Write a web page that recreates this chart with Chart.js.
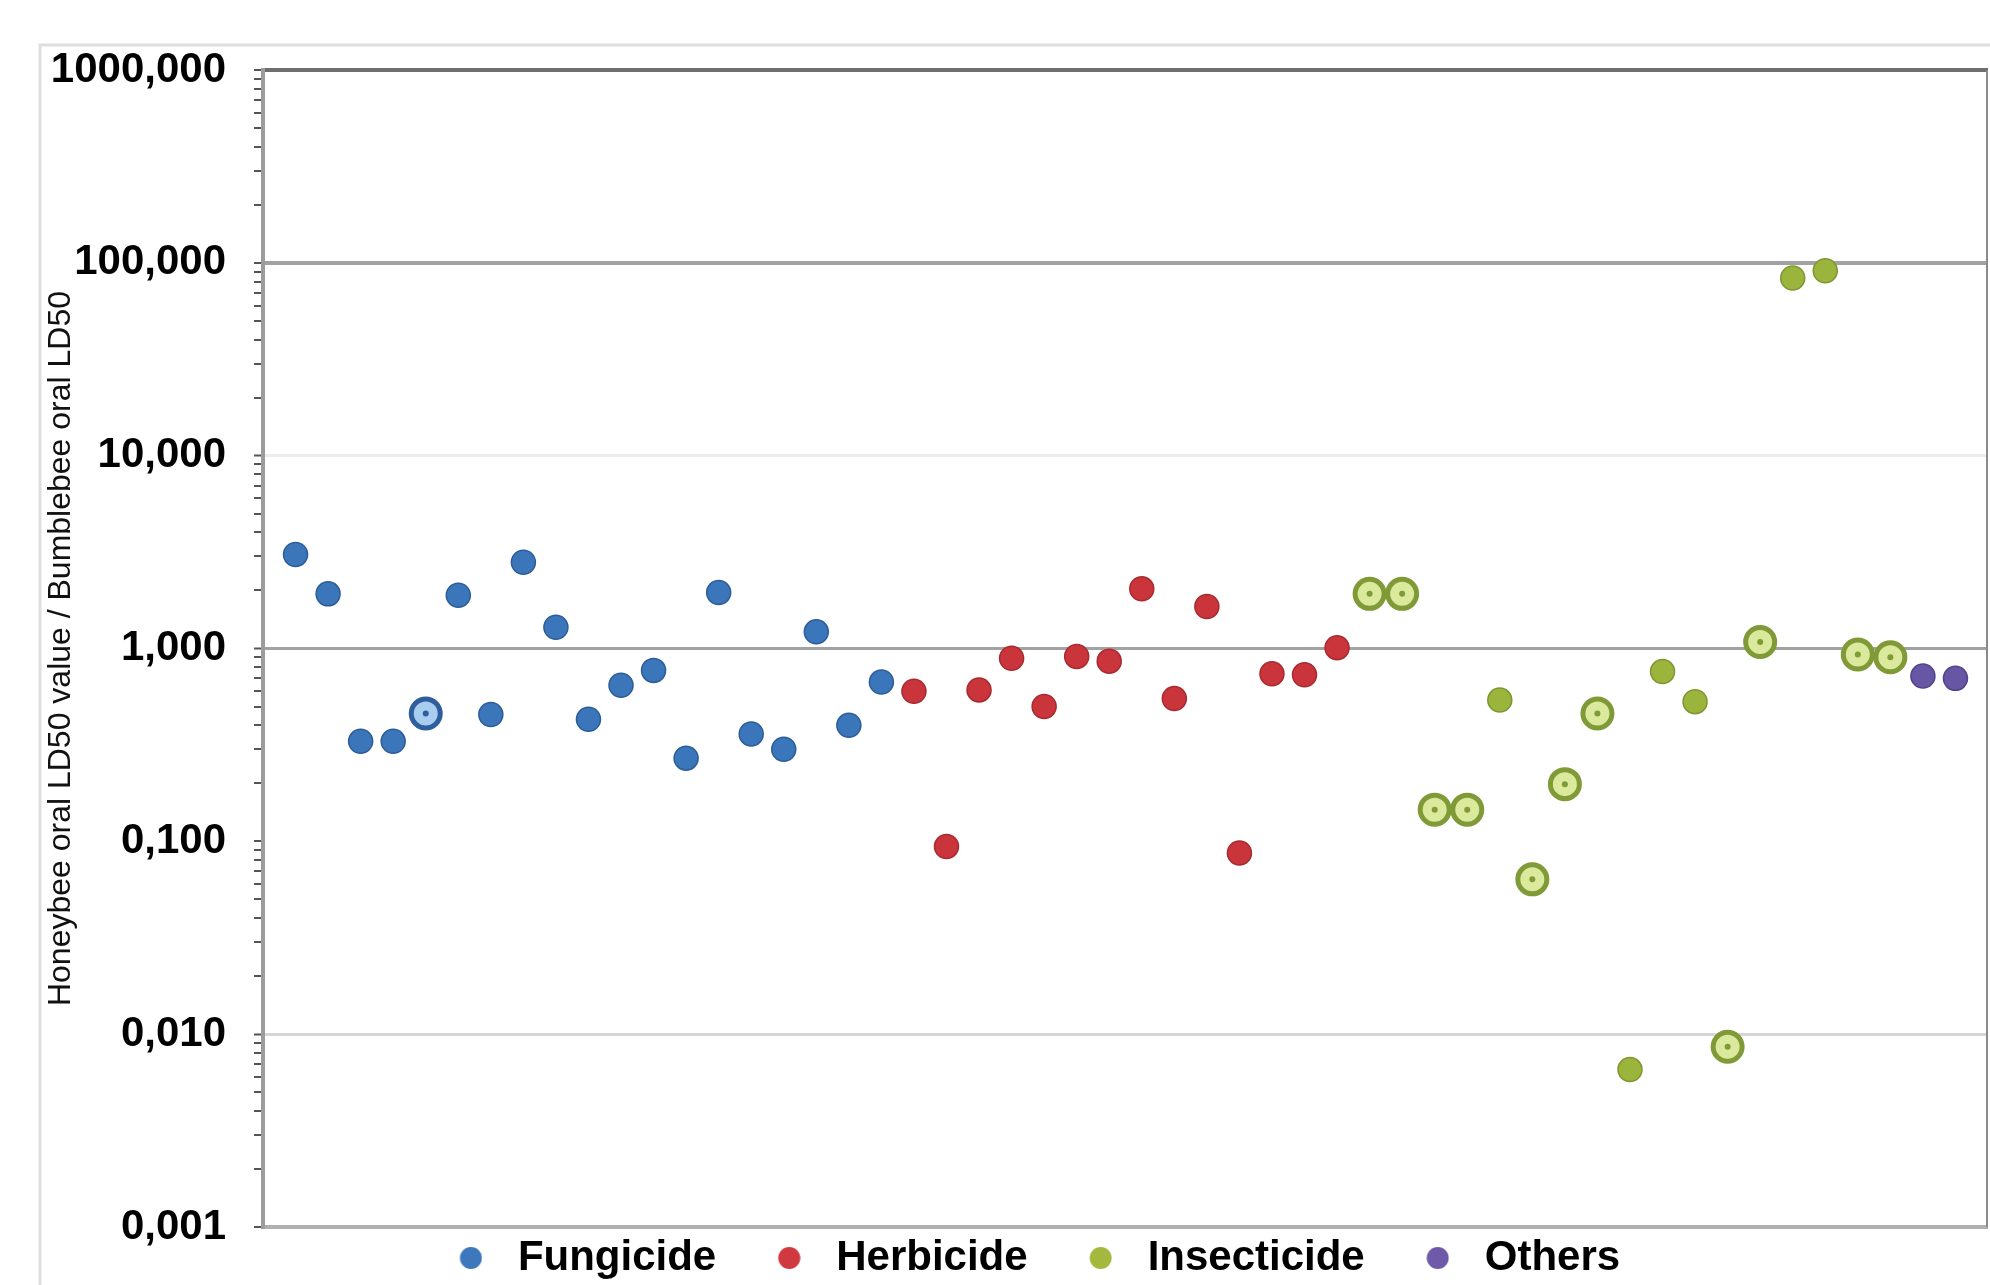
<!DOCTYPE html>
<html><head><meta charset="utf-8">
<script src="https://cdn.jsdelivr.net/npm/chart.js@4"></script>
<style>html,body{margin:0;padding:0;background:#fff;overflow:hidden;} #wrap{width:1990px;height:1285px;position:relative;} canvas{display:block;}</style>
</head><body><div id="wrap"><canvas id="c"></canvas></div>
<script>
// ---- data (ratio honeybee oral LD50 / bumblebee oral LD50), in plotting order ----
const fungicide   = [3.07, 1.92, 0.33, 0.33, 0.46, 1.89, 0.455, 2.8, 1.29, 0.43, 0.645, 0.77, 0.27, 1.95, 0.36, 0.30, 1.22, 0.40, 0.67];
const herbicide   = [0.60, 0.094, 0.61, 0.89, 0.50, 0.91, 0.86, 2.04, 0.55, 1.65, 0.087, 0.74, 0.73, 1.01];
const insecticide = [1.92, 1.92, 0.146, 0.146, 0.54, 0.0635, 0.198, 0.46, 0.00655, 0.76, 0.53, 0.0086, 1.08, 83.4, 91, 0.93, 0.90];
const others      = [0.72, 0.70];
// 1-based positions within each group of compounds shown with the ringed marker
const ringedFungicide   = [5];
const ringedHerbicide   = [];
const ringedInsecticide = [1, 2, 3, 4, 6, 7, 8, 12, 13, 16, 17];
const ringedOthers      = [];
const seriesNames = ['Fungicide', 'Herbicide', 'Insecticide', 'Others'];
const tickValues = [1000, 100, 10, 1, 0.1, 0.01, 0.001];
const tickLabels = ['1000,000', '100,000', '10,000', '1,000', '0,100', '0,010', '0,001'];
const yTitle = 'Honeybee oral LD50 value / Bumblebee oral LD50';

// ---- styles ----
const styles = [
  {fill: '#3b75ba', edge: '#2d5d98', ringFill: '#a9cdf0', ringEdge: '#2f5e9c', legend: '#3d78bd'},
  {fill: '#c9353b', edge: '#a82a30', ringFill: '#f0a0a0', ringEdge: '#a82a30', legend: '#d0393f'},
  {fill: '#9bb43b', edge: '#7e9631', ringFill: '#dbe99c', ringEdge: '#7f9a36', legend: '#a4b83d'},
  {fill: '#6656a4', edge: '#52448a', ringFill: '#c0b6e0', ringEdge: '#52448a', legend: '#6e5aa8'}
];
const groupValues = [fungicide, herbicide, insecticide, others];
const groupRinged = [ringedFungicide, ringedHerbicide, ringedInsecticide, ringedOthers];

const datasets = [];
const dots = [], dotColors = [];
let xi = 0;
groupValues.forEach((vals, g) => {
  const st = styles[g];
  const data = [], r = [], bg = [], bc = [], bw = [];
  vals.forEach((v, i) => {
    xi += 1;
    const ring = groupRinged[g].includes(i + 1);
    data.push({x: xi, y: v});
    r.push(ring ? 14.5 : 12);
    bg.push(ring ? st.ringFill : st.fill);
    bc.push(ring ? st.ringEdge : st.edge);
    bw.push(ring ? 5 : 1.5);
    if (ring) { dots.push({x: xi, y: v}); dotColors.push(st.ringEdge); }
  });
  datasets.push({label: seriesNames[g], data, pointRadius: r, pointHoverRadius: r,
    pointBackgroundColor: bg, pointBorderColor: bc, pointBorderWidth: bw,
    backgroundColor: st.legend, borderColor: st.legend, showLine: false, order: 1});
});
datasets.push({label: '_centers', data: dots, pointRadius: 3, pointBorderWidth: 0,
  pointBackgroundColor: dotColors, showLine: false, order: -1});
const nPoints = xi;

// legend marker images (dot offset inside a wide box so text spacing matches)
const LEG_W = 89;
function legendImg(color) {
  const c = document.createElement('canvas');
  c.width = 60; c.height = 24;
  const x = c.getContext('2d');
  x.fillStyle = color; x.beginPath(); x.arc(48.5, 12, 11, 0, Math.PI * 2); x.fill();
  return c;
}
const legendImgs = styles.map(s => legendImg(s.legend));

const FONT = "'Liberation Sans', Arial, Helvetica, sans-serif";
const minorTicks = [];
for (let e = -3; e < 3; e++) for (let m = 1; m < 10; m++) minorTicks.push(+(m * Math.pow(10, e)).toPrecision(3));
minorTicks.push(1000);

function isMajor(v) { return tickValues.some(t => Math.abs(Math.log10(v) - Math.log10(t)) < 1e-6); }
function gridStyle(v) {
  if (!isMajor(v)) return {c: 'rgba(0,0,0,0)', w: 0};
  const l = Math.round(Math.log10(v));
  if (l === 3) return {c: '#6e6e6e', w: 4};
  if (l === 2) return {c: '#a2a2a2', w: 4};
  if (l === 1) return {c: '#ededed', w: 3};
  if (l === 0) return {c: '#a2a2a2', w: 3};
  if (l === -1) return {c: 'rgba(0,0,0,0)', w: 0};
  if (l === -2) return {c: '#d6d6d6', w: 3};
  return {c: '#b0b0b0', w: 4};
}

const frame = {
  id: 'frame',
  beforeDraw(chart) {
    const ctx = chart.ctx;
    ctx.save();
    ctx.strokeStyle = '#dedede'; ctx.lineWidth = 3;
    ctx.strokeRect(40, 45, chart.width + 20, chart.height + 20);
    ctx.restore();
  },
  afterDraw(chart) {
    const a = chart.chartArea, ctx = chart.ctx;
    ctx.save();
    ctx.strokeStyle = '#8a8a8a'; ctx.lineWidth = 2;
    ctx.beginPath(); ctx.moveTo(a.right - 1, a.top); ctx.lineTo(a.right - 1, a.bottom); ctx.stroke();
    ctx.restore();
  }
};

new Chart(document.getElementById('c'), {
  type: 'scatter',
  data: {datasets},
  plugins: [frame],
  options: {
    responsive: true, maintainAspectRatio: false, animation: false,
    layout: {autoPadding: false, padding: {left: 40, top: 70, right: 2, bottom: -4}},
    scales: {
      x: {type: 'linear', min: 0, max: nPoints + 1, display: false},
      y: {
        type: 'logarithmic', min: 0.001, max: 1000,
        afterBuildTicks(s) { s.ticks = minorTicks.map(v => ({value: v})); },
        afterFit(s) { s.width = 223; },
        ticks: {
          autoSkip: false, padding: 28, color: '#000',
          font: {family: FONT, size: 42, weight: 'bold'},
          callback(v) { const i = tickValues.findIndex(t => Math.abs(Math.log10(v) - Math.log10(t)) < 1e-6); return i >= 0 ? tickLabels[i] : ''; }
        },
        grid: {
          drawTicks: true, tickLength: 9, tickWidth: 2,
          tickColor: '#555',
          color: ctx => gridStyle(ctx.tick.value).c,
          lineWidth: ctx => gridStyle(ctx.tick.value).w
        },
        border: {display: true, color: '#9c9c9c', width: 4},
        title: {display: true, text: yTitle, color: '#111', font: {family: FONT, size: 32}, padding: {top: 2, bottom: 0}}
      }
    },
    plugins: {
      tooltip: {enabled: false},
      legend: {
        position: 'bottom',
        labels: {
          usePointStyle: true, pointStyleWidth: LEG_W, padding: 10, color: '#000',
          font: {family: FONT, size: 42, weight: 'bold'},
          filter: item => item.datasetIndex < seriesNames.length,
          generateLabels(chart) {
            const items = Chart.defaults.plugins.legend.labels.generateLabels(chart);
            items.forEach(it => { if (it.datasetIndex < legendImgs.length) { it.pointStyle = legendImgs[it.datasetIndex]; it.lineWidth = 0; it.strokeStyle = 'rgba(0,0,0,0)'; } });
            return items;
          }
        }
      }
    }
  }
});
</script></body></html>
